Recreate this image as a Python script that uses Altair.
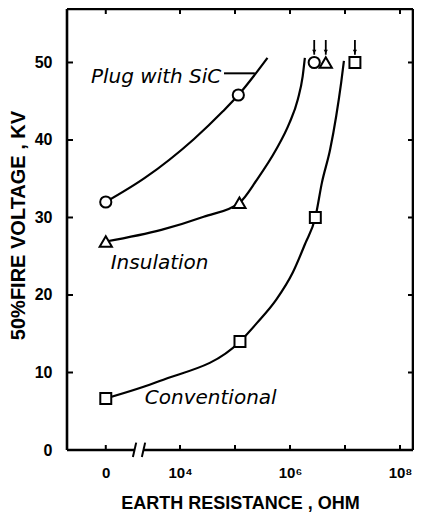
import altair as alt
import pandas as pd

# ---------------- data (x in log10 ohm on a broken axis; ZERO_POS marks 0 ohm) ----
ZERO_POS = 2.65

SIC_X = [ZERO_POS, 5.06, 6.44]
SIC_Y = [32.0, 45.8, 50.0]
INS_X = [ZERO_POS, 5.08, 6.65]
INS_Y = [26.9, 31.9, 50.0]
CON_X = [ZERO_POS, 5.09, 6.46, 7.18]
CON_Y = [6.65, 14.0, 30.0, 50.0]

# tests that reached 50 kV (arrow marks)
ARROW_X = [6.44, 6.65, 7.18]

# hand-drawn curves
SIC_CURVE_X = [ZERO_POS, 3.36, 4.25, 4.78, 5.06, 5.59]
SIC_CURVE_Y = [32.0, 35.1, 40.1, 43.7, 45.8, 50.6]
INS_CURVE_X = [ZERO_POS, 3.66, 4.43, 5.08, 5.40, 5.75, 5.99, 6.14, 6.23, 6.27]
INS_CURVE_Y = [26.9, 28.4, 30.1, 31.9, 34.9, 38.8, 42.2, 45.2, 48.2, 50.6]
CON_CURVE_X = [ZERO_POS, 3.63, 5.09, 5.40, 5.75, 6.05, 6.28, 6.46, 6.58, 6.73, 6.84, 6.93, 6.98]
CON_CURVE_Y = [6.65, 8.9, 14.0, 16.4, 19.4, 22.9, 26.7, 30.0, 34.5, 38.8, 43.1, 47.4, 50.2]

LABEL_TEXT = ["Plug with SiC", "Insulation", "Conventional"]
LABEL_X = [2.38, 2.74, 3.36]
LABEL_Y = [47.4, 23.3, 5.9]
LEADER_X = [4.80, 5.36]
LEADER_Y = 48.6

X_TICKS = [ZERO_POS, 4, 5, 6, 7, 8]
X_LABELLED = [ZERO_POS, 4, 6, 8]
Y_TICKS = [10, 20, 30, 40, 50]
Y_LABELLED = [0, 10, 20, 30, 40, 50]
BREAK_X = [3.173, 3.336]

X_DOMAIN = [1.945, 8.236]
Y_DOMAIN = [0, 56.9]
W, H = 346, 441

FONT = "Liberation Sans"

xs = alt.Scale(domain=X_DOMAIN, nice=False, zero=False)
ys = alt.Scale(domain=Y_DOMAIN, nice=False, zero=False)

x_axis = alt.Axis(
    values=X_LABELLED,
    labelExpr="datum.value < 3 ? '0' : datum.value == 4 ? '10\u2074' : datum.value == 6 ? '10\u2076' : '10\u2078'",
    title="EARTH RESISTANCE , OHM",
    domain=False, ticks=False, tickSize=0, grid=False,
    labelPadding=22, labelBaseline="middle", labelFlush=False, labelOverlap=False,
    labelFont=FONT, labelFontSize=15, labelFontWeight="bold", labelColor="black",
    titleFont=FONT, titleFontSize=18, titleFontWeight="bold", titleColor="black",
    titleY=58, titleBaseline="alphabetic",
)
y_axis = alt.Axis(
    values=Y_LABELLED,
    title="50%FIRE VOLTAGE , KV",
    domain=False, ticks=False, tickSize=0, grid=False,
    labelPadding=15, labelFlush=False, labelOverlap=False,
    labelFont=FONT, labelFontSize=16, labelFontWeight="bold", labelColor="black",
    titleFont=FONT, titleFontSize=20, titleFontWeight="bold", titleColor="black",
    titleX=-49, titleY=216, titleBaseline="middle",
)


def X(f="x"):
    return alt.X(f"{f}:Q", scale=xs, axis=x_axis)


def Y(f="y"):
    return alt.Y(f"{f}:Q", scale=ys, axis=y_axis)


curves = pd.concat([
    pd.DataFrame({"x": SIC_CURVE_X, "y": SIC_CURVE_Y, "s": "sic"}),
    pd.DataFrame({"x": INS_CURVE_X, "y": INS_CURVE_Y, "s": "ins"}),
    pd.DataFrame({"x": CON_CURVE_X, "y": CON_CURVE_Y, "s": "con"}),
])

lines = alt.Chart(curves).mark_line(
    interpolate="monotone", color="black", strokeWidth=2.2
).encode(x=X(), y=Y(), detail="s:N")

marker_style = dict(filled=True, fill="white", stroke="black", strokeWidth=2, opacity=1)
circles = alt.Chart(pd.DataFrame({"x": SIC_X, "y": SIC_Y})).mark_point(
    shape="circle", size=125, **marker_style).encode(x=X(), y=Y())
triangles = alt.Chart(pd.DataFrame({"x": INS_X, "y": INS_Y})).mark_point(
    shape="triangle-up", size=150, **marker_style).encode(x=X(), y=Y())
squares = alt.Chart(pd.DataFrame({"x": CON_X, "y": CON_Y})).mark_point(
    shape="square", size=120, **marker_style).encode(x=X(), y=Y())

arrow_df = pd.DataFrame({"x": ARROW_X, "y": [51.0] * 3, "y2": [52.9] * 3, "yh": [51.4] * 3})
arrow_lines = alt.Chart(arrow_df).mark_rule(color="black", strokeWidth=1.8).encode(
    x=X(), y=Y(), y2="y2:Q")
arrow_heads = alt.Chart(arrow_df).mark_point(
    shape="triangle-down", size=18, filled=True, color="black", opacity=1).encode(
    x=X(), y=Y("yh"))

labels = alt.Chart(pd.DataFrame({"x": LABEL_X, "y": LABEL_Y, "t": LABEL_TEXT})).mark_text(
    align="left", baseline="alphabetic", font="DejaVu Sans", fontStyle="italic",
    fontSize=20, color="black").encode(x=X(), y=Y(), text="t:N")
leader = alt.Chart(pd.DataFrame({"x": [LEADER_X[0]], "x2": [LEADER_X[1]], "y": [LEADER_Y]})).mark_rule(
    color="black", strokeWidth=2).encode(x=X(), x2="x2:Q", y=Y())

# frame and inward ticks
one = pd.DataFrame({"k": [0]})
frame_left = alt.Chart(one).mark_rule(color="black", strokeWidth=2.6).encode(
    x=alt.value(0), y=alt.value(0), y2=alt.value(H))
frame_right = alt.Chart(one).mark_rule(color="black", strokeWidth=2.6).encode(
    x=alt.value(W), y=alt.value(0), y2=alt.value(H))
frame_top = alt.Chart(one).mark_rule(color="black", strokeWidth=2.6).encode(
    x=alt.value(0), x2=alt.value(W), y=alt.value(0))
bottom_df = pd.DataFrame({"x": [X_DOMAIN[0], BREAK_X[1]], "x2": [BREAK_X[0], X_DOMAIN[1]]})
frame_bottom = alt.Chart(bottom_df).mark_rule(color="black", strokeWidth=2.6).encode(
    x=X(), x2="x2:Q", y=alt.value(H))
break_df = pd.DataFrame({"x": [b - 0.03 for b in BREAK_X], "x2": [b + 0.03 for b in BREAK_X],
                         "y": [-0.9] * 2, "y2": [0.95] * 2})
breaks = alt.Chart(break_df).mark_rule(color="black", strokeWidth=2).encode(
    x=X(), x2="x2:Q", y=Y(), y2="y2:Q")

xt = pd.DataFrame({"x": X_TICKS})
ticks_bottom = alt.Chart(xt).mark_rule(color="black", strokeWidth=2).encode(
    x=X(), y=alt.value(H), y2=alt.value(H - 5))
ticks_top = alt.Chart(xt).mark_rule(color="black", strokeWidth=2).encode(
    x=X(), y=alt.value(0), y2=alt.value(5))
yt = pd.DataFrame({"y": Y_TICKS})
ticks_left = alt.Chart(yt).mark_rule(color="black", strokeWidth=2).encode(
    y=Y(), x=alt.value(0), x2=alt.value(6))
ticks_right = alt.Chart(yt).mark_rule(color="black", strokeWidth=2).encode(
    y=Y(), x=alt.value(W - 5), x2=alt.value(W))

chart = alt.layer(
    lines, frame_left, frame_right, frame_top, frame_bottom, breaks,
    ticks_bottom, ticks_top, ticks_left, ticks_right,
    leader, labels, arrow_lines, arrow_heads, circles, triangles, squares,
).properties(
    width=W, height=H,
    padding={"left": 59, "top": 1, "right": 1, "bottom": 62},
    autosize=alt.AutoSizeParams(type="none"),
    background="white",
).configure_view(stroke="transparent")

chart.save("out.html", embed_options={"renderer": "svg", "actions": False})
